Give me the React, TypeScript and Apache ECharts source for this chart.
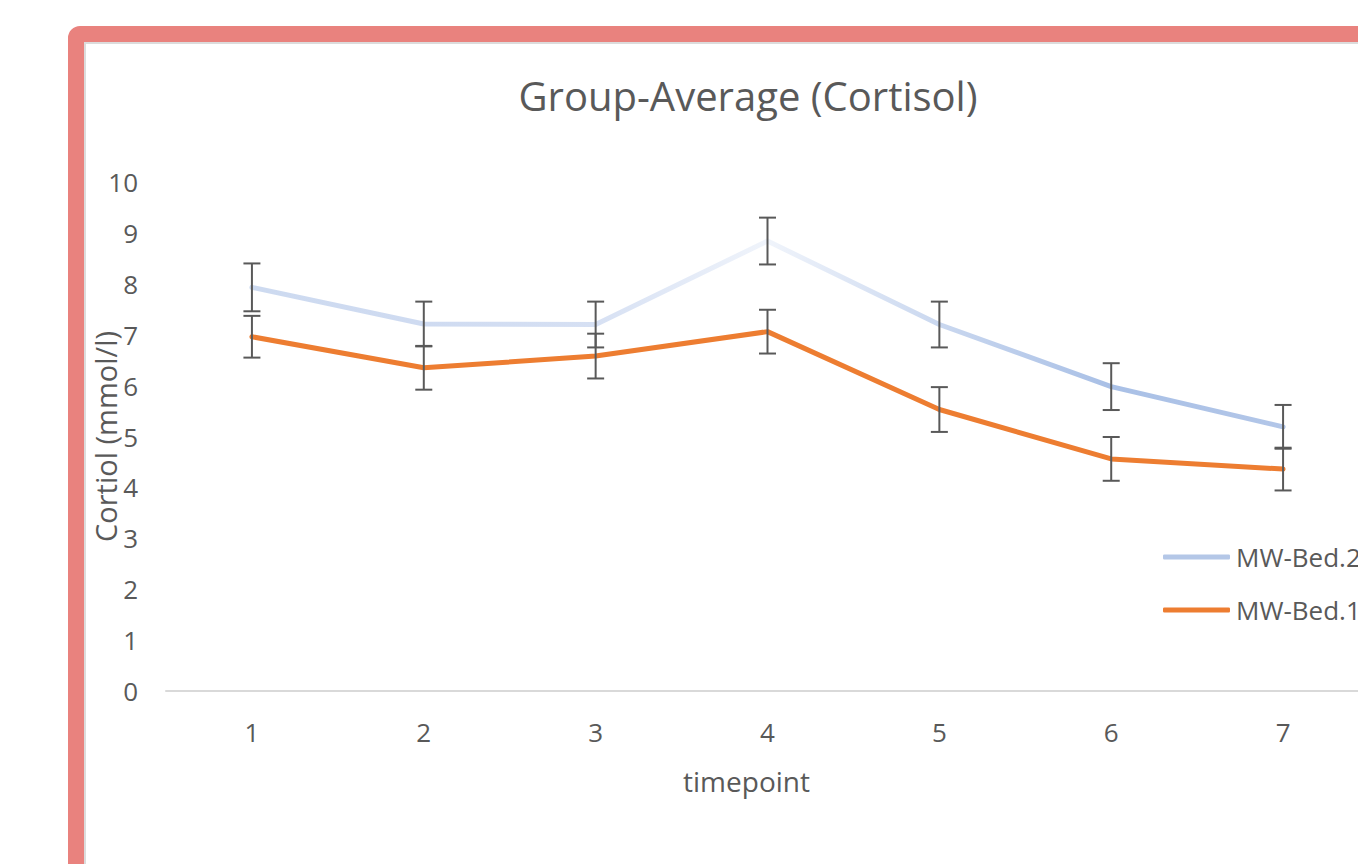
import React, { useEffect, useRef } from "react";
import * as echarts from "echarts";

const categories = ["1", "2", "3", "4", "5", "6", "7"];
const bed2Mean = [7.93, 7.21, 7.2, 8.84, 7.2, 5.98, 5.19];
const bed2Err = [0.47, 0.44, 0.45, 0.46, 0.45, 0.46, 0.43];
const bed1Mean = [6.96, 6.35, 6.58, 7.06, 5.53, 4.56, 4.36];
const bed1Err = [0.41, 0.43, 0.44, 0.43, 0.44, 0.43, 0.42];
const seriesNames = ["MW-Bed.2", "MW-Bed.1"];
const yTicks = [0, 10, 1];

const FONT = "'Open Sans', 'Noto Sans', sans-serif";
const GREY = "#595959";

function errorSeries(name: string, means: number[], errs: number[]) {
  const data = means.map((m, i) => [i, m - errs[i], m + errs[i]]);
  return {
    type: "custom",
    name: name + " error",
    z: 10,
    silent: true,
    data,
    encode: { x: 0, y: [1, 2] },
    renderItem: (params: any, api: any) => {
      const x = api.value(0);
      const lo = api.coord([x, api.value(1)]);
      const hi = api.coord([x, api.value(2)]);
      const cap = 8.5;
      const style = { stroke: GREY, lineWidth: 2 };
      return {
        type: "group",
        children: [
          { type: "line", shape: { x1: lo[0], y1: lo[1], x2: hi[0], y2: hi[1] }, style },
          { type: "line", shape: { x1: lo[0] - cap, y1: lo[1], x2: lo[0] + cap, y2: lo[1] }, style },
          { type: "line", shape: { x1: hi[0] - cap, y1: hi[1], x2: hi[0] + cap, y2: hi[1] }, style },
        ],
      };
    },
  };
}

export default function App() {
  const ref = useRef<HTMLDivElement>(null);
  useEffect(() => {
    if (!ref.current) return;
    const chart = echarts.init(ref.current, undefined, { renderer: "svg" });
    const blueGrad = new echarts.graphic.LinearGradient(0, 0, 1, 0, [
      { offset: 0, color: "#cddaf0" },
      { offset: 0.17, color: "#cfdbf1" },
      { offset: 0.33, color: "#d6e0f3" },
      { offset: 0.5, color: "#f0f4fb" },
      { offset: 0.67, color: "#c9d7ef" },
      { offset: 0.83, color: "#a9c0e6" },
      { offset: 1, color: "#b2c6e8" },
    ]);
    chart.setOption({
      animation: false,
      title: {
        text: "Group-Average (Cortisol)",
        left: "center",
        top: 75,
        padding: 0,
        textStyle: { fontFamily: FONT, fontSize: 40, fontWeight: "normal", color: GREY },
      },
      legend: {
        orient: "vertical",
        left: 1163,
        top: 544,
        padding: 0,
        itemWidth: 67,
        itemHeight: 5,
        itemGap: 27,
        icon: "roundRect",
        textStyle: { fontFamily: FONT, fontSize: 26, color: GREY, lineHeight: 26, padding: [0, 0, 0, 1] },
        data: [
          { name: seriesNames[0], itemStyle: { color: "#b4c7e7" } },
          { name: seriesNames[1], itemStyle: { color: "#ed7d31" } },
        ],
      },
      grid: { left: 166, right: 127, top: 182, bottom: 173 },
      xAxis: {
        type: "category",
        data: categories,
        boundaryGap: true,
        name: "timepoint",
        nameLocation: "middle",
        nameGap: 76,
        nameTextStyle: { fontFamily: FONT, fontSize: 28, color: GREY, padding: [0, 42, 0, 0] },
        axisLine: { lineStyle: { color: "#d9d9d9", width: 2 } },
        axisTick: { show: false },
        axisLabel: { fontFamily: FONT, fontSize: 26, color: GREY, margin: 28 },
      },
      yAxis: {
        type: "value",
        min: yTicks[0],
        max: yTicks[1],
        interval: yTicks[2],
        name: "Cortiol (mmol/l)",
        nameLocation: "middle",
        nameGap: 46,
        nameMoveOverlap: false,
        nameTextStyle: { fontFamily: FONT, fontSize: 29, color: GREY },
        axisLine: { show: false },
        axisTick: { show: false },
        splitLine: { show: false },
        axisLabel: { fontFamily: FONT, fontSize: 26, color: GREY, margin: 28 },
      },
      series: [
        {
          name: seriesNames[0],
          type: "line",
          data: bed2Mean,
          symbol: "none",
          z: 3,
          lineStyle: { color: blueGrad, width: 5, cap: "round", join: "round" },
          itemStyle: { color: "#b4c7e7" },
        },
        {
          name: seriesNames[1],
          type: "line",
          data: bed1Mean,
          symbol: "none",
          z: 4,
          lineStyle: { color: "#ed7d31", width: 5, cap: "round", join: "round" },
          itemStyle: { color: "#ed7d31" },
        },
        errorSeries(seriesNames[0], bed2Mean, bed2Err),
        errorSeries(seriesNames[1], bed1Mean, bed1Err),
      ],
    });
    return () => chart.dispose();
  }, []);

  return (
    <div
      style={{
        position: "fixed",
        left: 0,
        top: 0,
        width: 1358,
        height: 864,
        overflow: "hidden",
        background: "#ffffff",
      }}
    >
      <div
        style={{
          position: "absolute",
          left: 68,
          top: 26,
          width: 1500,
          height: 1000,
          boxSizing: "border-box",
          border: "16px solid #e9827e",
          borderRadius: 12,
        }}
      />
      <div
        style={{
          position: "absolute",
          left: 84,
          top: 42,
          width: 1500,
          height: 1000,
          boxSizing: "border-box",
          border: "2px solid #dcdcdc",
        }}
      />
      <div ref={ref} style={{ position: "absolute", left: 0, top: 0, width: 1496, height: 864 }} />
    </div>
  );
}
